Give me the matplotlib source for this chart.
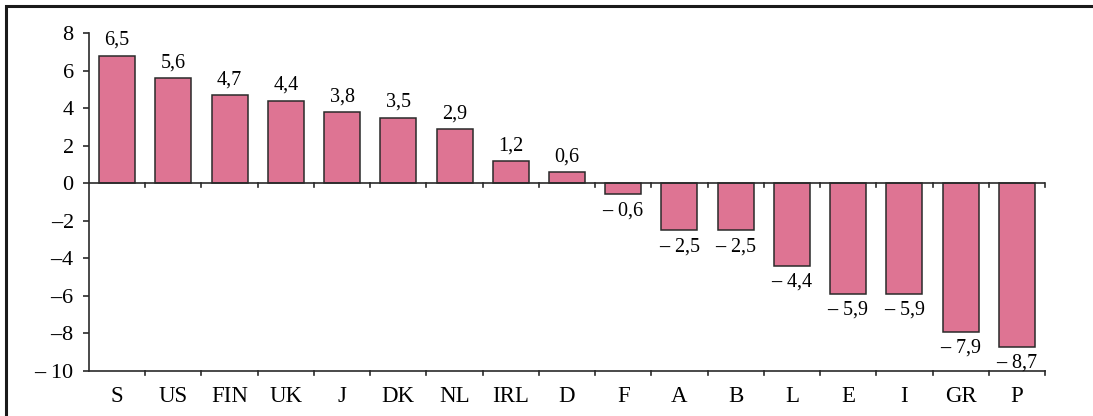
import matplotlib
matplotlib.use("Agg")
import matplotlib.pyplot as plt
from matplotlib.patches import Rectangle

categories = ["S", "US", "FIN", "UK", "J", "DK", "NL", "IRL", "D", "F", "A", "B", "L", "E", "I", "GR", "P"]
values = [6.8, 5.6, 4.7, 4.4, 3.8, 3.5, 2.9, 1.2, 0.6, -0.6, -2.5, -2.5, -4.4, -5.9, -5.9, -7.9, -8.7]
DASH = "$\\mathbf{\u2013}$"
value_labels = ["6,5", "5,6", "4,7", "4,4", "3,8", "3,5", "2,9", "1,2", "0,6",
                DASH + " 0,6", DASH + " 2,5", DASH + " 2,5", DASH + " 4,4",
                DASH + " 5,9", DASH + " 5,9", DASH + " 7,9", DASH + " 8,7"]
yticks = [8, 6, 4, 2, 0, -2, -4, -6, -8, -10]
ytick_labels = ["8", "6", "4", "2", "0", DASH + "2", DASH + "4", DASH + "6", DASH + "8", DASH + " 10"]

plt.rcParams["font.family"] = ["Liberation Serif", "DejaVu Serif"]
plt.rcParams["mathtext.fontset"] = "custom"
plt.rcParams["mathtext.rm"] = "Liberation Serif"
plt.rcParams["mathtext.bf"] = "Liberation Serif:bold"
plt.rcParams["mathtext.it"] = "Liberation Serif:italic"

W, H = 1093, 416
fig = plt.figure(figsize=(W / 100, H / 100), dpi=100)
ax = fig.add_axes([89 / W, 1 - 371 / H, (1045 - 89) / W, (371 - 33) / H])

x = list(range(len(categories)))
ax.bar(x, values, width=0.64, color="#DE7493", edgecolor="#2a2a2a", linewidth=1.1, zorder=2)

ax.set_xlim(-0.5, len(categories) - 0.5)
ax.set_ylim(-10, 8)
ax.set_yticks(yticks)
ax.set_yticklabels(ytick_labels, fontsize=16)
ax.tick_params(axis="y", direction="out", length=4, width=1.2, pad=7, color="#2a2a2a")

ax.set_xticks(x)
ax.set_xticklabels(categories, fontsize=16.5)
ax.tick_params(axis="x", length=0, pad=11)
for xb in [i + 0.5 for i in range(len(categories))]:
    ax.plot([xb, xb], [-10, -10.22], color="#2a2a2a", lw=1.2, clip_on=False, zorder=3)
    ax.plot([xb, xb], [0, -0.22], color="#2a2a2a", lw=1.2, clip_on=False, zorder=3)

ax.axhline(0, color="#2a2a2a", lw=1.2, zorder=3)
for s in ["top", "right"]:
    ax.spines[s].set_visible(False)
for s in ["left", "bottom"]:
    ax.spines[s].set_linewidth(1.2)
    ax.spines[s].set_color("#2a2a2a")

for xi, v, lab in zip(x, values, value_labels):
    if v >= 0:
        ax.annotate(lab, (xi, v), xytext=(0, 4), textcoords="offset points",
                    ha="center", va="bottom", fontsize=14.5)
    else:
        ax.annotate(lab, (xi, v), xytext=(0, -4), textcoords="offset points",
                    ha="center", va="top", fontsize=14.5)

fig.add_artist(Rectangle((6 / W, -0.1), 1.2, 1 - 6 / H + 0.1, transform=fig.transFigure,
                         fill=False, edgecolor="#1a1a1a", linewidth=2.2))

fig.savefig("out.png", dpi=100)
